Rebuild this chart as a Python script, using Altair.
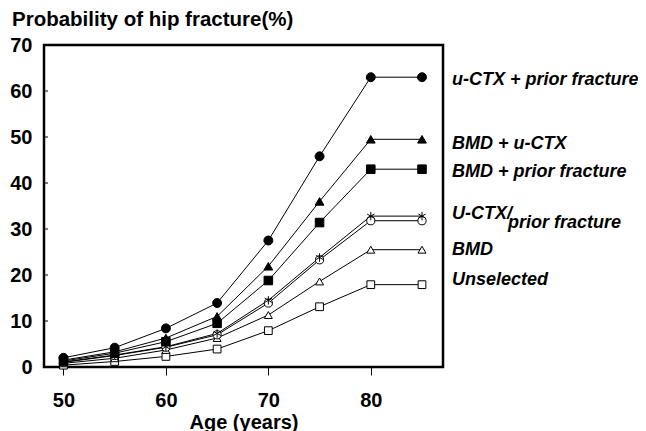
import altair as alt
import pandas as pd

ages = [50, 55, 60, 65, 70, 75, 80, 85]

series_names = [
    "Unselected",
    "BMD",
    "U-CTX (open circle)",
    "prior fracture (asterisk)",
    "BMD + prior fracture",
    "BMD + u-CTX",
    "u-CTX + prior fracture",
]

unselected = [0.4, 1.2, 2.3, 3.9, 7.9, 13.1, 17.9, 17.9]
bmd = [0.8, 1.9, 3.7, 6.3, 11.3, 18.6, 25.5, 25.5]
uctx_open = [1.0, 2.5, 4.3, 7.0, 13.9, 23.3, 31.8, 31.8]
prior_star = [1.1, 2.6, 4.4, 7.3, 14.5, 23.8, 32.8, 32.8]
bmd_prior = [1.3, 3.0, 5.5, 9.5, 18.8, 31.4, 43.0, 43.0]
bmd_uctx = [1.5, 3.3, 6.3, 11.0, 21.9, 36.0, 49.5, 49.5]
uctx_prior = [2.0, 4.2, 8.4, 13.9, 27.5, 45.8, 63.0, 63.0]

values = [unselected, bmd, uctx_open, prior_star, bmd_prior, bmd_uctx, uctx_prior]

y_ticks = [0, 10, 20, 30, 40, 50, 60, 70]
x_ticks = [50, 60, 70, 80]

label_texts = [
    "u-CTX + prior fracture",
    "BMD + u-CTX",
    "BMD + prior fracture",
    "U-CTX/",
    "BMD",
    "Unselected",
]

rows = []
for name, vals in zip(series_names, values):
    for a, v in zip(ages, vals):
        rows.append({"age": a, "value": v, "series": name})
df = pd.DataFrame(rows)

asterisk = "M0,-1L0,1M-0.87,-0.5L0.87,0.5M-0.87,0.5L0.87,-0.5"
shapes = ["square", "triangle-up", "circle", asterisk, "square", "triangle-up", "circle"]
fills = ["white", "white", "white", "white", "black", "black", "black"]
sizes = [60, 80, 55, 70, 72, 95, 80]

FONT = "Liberation Sans"

x_enc = alt.X("age:Q", scale=alt.Scale(domain=[48.1, 87.05], nice=False, zero=False),
              axis=alt.Axis(values=x_ticks, title="Age (years)", domain=False, grid=False,
                            tickSize=8, tickColor="black", tickWidth=1,
                            labelPadding=15, labelFontSize=20, labelFont=FONT,
                            labelFontWeight="bold", labelColor="black",
                            titleFontSize=20, titleFont=FONT, titleFontWeight="bold",
                            titleColor="black", titlePadding=2))
y_enc = alt.Y("value:Q", scale=alt.Scale(domain=[0, 70], nice=False),
              axis=alt.Axis(values=y_ticks, title=None, domain=False, grid=False,
                            ticks=False, labelPadding=12, labelFontSize=20,
                            labelFont=FONT, labelFontWeight="bold", labelColor="black"))

base = alt.Chart(df)

lines = base.mark_line(color="black", strokeWidth=1).encode(
    x=x_enc, y=y_enc, detail="series:N", order="age:Q"
)

points = base.mark_point(stroke="black", strokeWidth=1, opacity=1, fillOpacity=1).encode(
    x="age:Q",
    y="value:Q",
    shape=alt.Shape("series:N", scale=alt.Scale(domain=series_names, range=shapes), legend=None),
    fill=alt.Fill("series:N", scale=alt.Scale(domain=series_names, range=fills), legend=None),
    size=alt.Size("series:N", scale=alt.Scale(domain=series_names, range=sizes), legend=None),
    order=alt.Order("order:Q"),
).transform_calculate(
    order="indexof(%s, datum.series)" % str(series_names)
)

tick_df = pd.DataFrame({"t": y_ticks[1:-1]})
yticks = alt.Chart(tick_df).mark_rule(color="black", strokeWidth=1).encode(
    y="t:Q", x=alt.value(0), x2=alt.value(4)
)

label_style = dict(font=FONT, fontSize=18, fontWeight="bold", fontStyle="italic",
                   align="left", baseline="alphabetic", color="black")
label_pos = [(408, 40), (408, 104), (408, 132), (408, 173.5), (408, 210), (408, 240)]
label_layers = []
for txt, (px, py) in zip(label_texts, label_pos):
    label_layers.append(
        alt.Chart(pd.DataFrame({"t": [txt]})).mark_text(**label_style).encode(
            text="t:N", x=alt.value(px), y=alt.value(py)
        )
    )
label_layers.append(
    alt.Chart(pd.DataFrame({"t": ["prior fracture"]})).mark_text(**label_style).encode(
        text="t:N", x=alt.value(464), y=alt.value(182.5)
    )
)

title = alt.Chart(pd.DataFrame({"t": ["Probability of hip fracture(%)"]})).mark_text(
    font=FONT, fontSize=20.5, fontWeight="bold", align="left", baseline="alphabetic",
    color="black"
).encode(text="t:N", x=alt.value(-32), y=alt.value(-19))

chart = alt.layer(lines, points, yticks, title, *label_layers).properties(
    width=399, height=322,
    background="white",
    padding={"left": 36, "top": 37, "right": 195, "bottom": 64},
    autosize=alt.AutoSizeParams(type="none"),
).configure_view(stroke="black", strokeWidth=2.5)

chart.save("out.html", embed_options={"renderer": "svg", "actions": False})
